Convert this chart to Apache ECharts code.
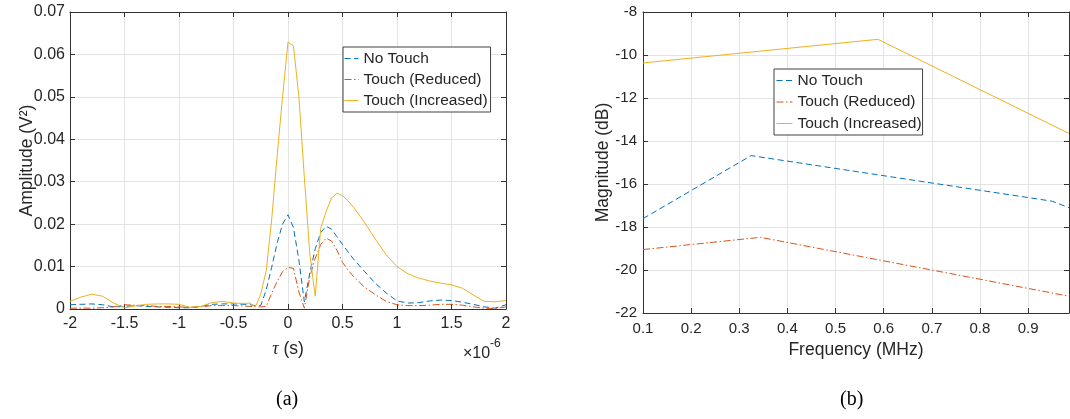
<!DOCTYPE html>
<html>
<head>
<meta charset="utf-8">
<script src="https://cdn.jsdelivr.net/npm/echarts@6/dist/echarts.min.js"></script>
<style>
html,body{margin:0;padding:0;background:#fff;}
#chart{width:1070px;height:419px;}
</style>
</head>
<body>
<div id="chart"></div>
<script>
// ---- Data (a): autocorrelation vs tau (x1e-6 s) ----
const seriesNames = ['No Touch', 'Touch (Reduced)', 'Touch (Increased)'];
const tau = [-2.0,-1.9,-1.8,-1.7,-1.6,-1.5,-1.4,-1.3,-1.2,-1.1,-1.0,-0.9,-0.8,-0.7,-0.6,-0.5,-0.4,
  -0.35,-0.3,-0.25,-0.2,-0.15,-0.1,-0.05,0,0.05,0.1,0.15,0.2,0.25,0.3,0.35,0.4,0.45,0.5,0.55,0.6,
  0.7,0.8,0.9,1.0,1.1,1.2,1.3,1.4,1.5,1.6,1.7,1.8,1.9,2.0];
const noTouch = [0.0010,0.0011,0.0012,0.0010,0.0005,0.0006,0.0008,0.0006,0.0005,0.0004,0.0003,0.0003,0.0006,0.0011,0.0012,0.0012,0.0011,
  0.0010,0.0008,0.0008,0.0045,0.0098,0.0155,0.0200,0.0222,0.0192,0.0115,0.0017,0.0085,0.0142,0.0180,0.0195,0.0188,0.0170,0.0152,0.0135,0.0118,
  0.0089,0.0061,0.0038,0.0019,0.0014,0.0015,0.0019,0.0021,0.0020,0.0016,0.0011,0.0005,0.0002,0.0010];
const touchReduced = [0.0002,0.0002,0.0002,0.0003,0.0005,0.0010,0.0009,0.0008,0.0006,0.0006,0.0005,0.0004,0.0005,0.0008,0.0008,0.0008,0.0007,
  0.0006,0.0006,0.0005,0.0006,0.0037,0.0065,0.0088,0.0098,0.0096,0.0040,0.0002,0.0076,0.0120,0.0152,0.0167,0.0160,0.0138,0.0110,0.0092,0.0077,
  0.0052,0.0034,0.0018,0.0010,0.0008,0.0008,0.0009,0.0011,0.0011,0.0009,0.0005,0.0002,0.0001,0.0005];
const touchIncreased = [0.0018,0.0028,0.0035,0.0030,0.0014,0.0003,0.0007,0.0011,0.0012,0.0012,0.0011,0.0004,0.0006,0.0015,0.0018,0.0014,0.0013,
  0.0014,0.0005,0.0035,0.0090,0.0210,0.0360,0.0500,0.0629,0.0620,0.0500,0.0310,0.0130,0.0030,0.0190,0.0230,0.0262,0.0273,0.0267,0.0255,0.0240,
  0.0205,0.0165,0.0128,0.0100,0.0083,0.0073,0.0066,0.0061,0.0057,0.0049,0.0033,0.0018,0.0017,0.0020];

// ---- Data (b): magnitude vs frequency ----
const freqNoTouch = [0.1, 0.3245, 0.95, 0.985];
const magNoTouch = [-17.61, -14.68, -16.8, -17.1];
const freqReduced = [0.1, 0.344, 0.985];
const magReduced = [-19.05, -18.48, -21.22];
const freqIncreased = [0.1, 0.588, 0.985];
const magIncreased = [-10.37, -9.27, -13.65];

const colors = ['#0072BD', '#D95319', '#EDB120'];
const dashes = [[6, 3.5], [7, 2.5, 1.5, 2.5], 'solid'];
const FONT = "'Liberation Sans', Arial, Helvetica, sans-serif";
const TXT = '#262626';
const AX = '#333333';
const GRIDC = '#e3e3e3';

function pairs(xs, ys) { return xs.map((x, i) => [x, ys[i]]); }

function mainAxis(gridIndex, pos, min, max, interval, fs, extra) {
  return Object.assign({
    type: 'value', gridIndex: gridIndex, position: pos, min: min, max: max, interval: interval,
    nameMoveOverlap: false,
    axisLine: { show: true, onZero: false, lineStyle: { color: AX, width: 1 } },
    axisTick: { show: true, inside: true, length: 5, lineStyle: { color: AX } },
    axisLabel: { show: true, color: TXT, fontFamily: FONT, fontSize: fs, margin: 7 },
    splitLine: { show: true, lineStyle: { color: GRIDC, width: 1 } }
  }, extra || {});
}
function boxAxis(gridIndex, pos, min, max, interval) {
  return {
    type: 'value', gridIndex: gridIndex, position: pos, min: min, max: max, interval: interval,
    axisLine: { show: true, onZero: false, lineStyle: { color: AX, width: 1 } },
    axisTick: { show: true, inside: true, length: 5, lineStyle: { color: AX } },
    axisLabel: { show: false }, splitLine: { show: false }
  };
}

const lineSeries = (name, idx, xi, yi, data) => ({
  name: name, type: 'line', xAxisIndex: xi, yAxisIndex: yi, data: data,
  symbol: 'none', smooth: false, clip: true,
  lineStyle: { color: colors[idx], width: 1, type: dashes[idx] },
  itemStyle: { color: colors[idx] }
});

const legendBase = {
  orient: 'vertical', backgroundColor: '#fff', borderColor: '#404040', borderWidth: 1,
  itemWidth: 15, itemHeight: 12, itemGap: 4, borderRadius: 0,
  itemStyle: { opacity: 0 },
  lineStyle: { width: 1 },
  textStyle: { color: TXT, fontFamily: FONT, fontSize: 15.5, lineHeight: 17 },
  selectedMode: false, data: seriesNames
};

const chart = echarts.init(document.getElementById('chart'), null, { renderer: 'canvas' });
chart.setOption({
  animation: false,
  backgroundColor: '#fff',
  grid: [
    { left: 70, top: 12, width: 436, height: 297, show: false },
    { left: 643, top: 12, width: 426, height: 301, show: false }
  ],
  xAxis: [
    mainAxis(0, 'bottom', -2, 2, 0.5, 16, {
      name: '{t|τ} (s)', nameLocation: 'middle', nameGap: 31,
      nameTextStyle: { color: TXT, fontFamily: FONT, fontSize: 17.5,
        rich: { t: { fontFamily: "'Liberation Serif', 'DejaVu Serif', serif", fontStyle: 'italic', fontSize: 18, color: TXT } } }
    }),
    boxAxis(0, 'top', -2, 2, 0.5),
    mainAxis(1, 'bottom', 0.1, 0.985, 0.1, 15, {
      name: 'Frequency (MHz)', nameLocation: 'middle', nameGap: 28,
      nameTextStyle: { color: TXT, fontFamily: FONT, fontSize: 17.5 },
      axisLabel: { show: true, color: TXT, fontFamily: FONT, fontSize: 15, margin: 8, showMaxLabel: false }
    }),
    boxAxis(1, 'top', 0.1, 0.985, 0.1)
  ],
  yAxis: [
    mainAxis(0, 'left', 0, 0.07, 0.01, 16, {
      name: 'Amplitude (V²)', nameLocation: 'middle', nameRotate: 90, nameGap: 34,
      nameTextStyle: { color: TXT, fontFamily: FONT, fontSize: 17.5 },
      axisLabel: { show: true, color: TXT, fontFamily: FONT, fontSize: 16, margin: 5 }
    }),
    boxAxis(0, 'right', 0, 0.07, 0.01),
    mainAxis(1, 'left', -22, -8, 2, 15, {
      name: 'Magnitude (dB)', nameLocation: 'middle', nameRotate: 90, nameGap: 31,
      nameTextStyle: { color: TXT, fontFamily: FONT, fontSize: 17.5 },
      axisLabel: { show: true, color: TXT, fontFamily: FONT, fontSize: 15, margin: 6 }
    }),
    boxAxis(1, 'right', -22, -8, 2)
  ],
  legend: [
    Object.assign({}, legendBase, { left: 343, top: 47, padding: [3, 3, 3, 1], itemWidth: 14 }),
    Object.assign({}, legendBase, { left: 774, top: 69, padding: [3, 1, 3, 2], itemWidth: 16, itemGap: 4.5 })
  ],
  series: [
    lineSeries(seriesNames[0], 0, 0, 0, pairs(tau, noTouch)),
    lineSeries(seriesNames[1], 1, 0, 0, pairs(tau, touchReduced)),
    lineSeries(seriesNames[2], 2, 0, 0, pairs(tau, touchIncreased)),
    lineSeries(seriesNames[0], 0, 2, 2, pairs(freqNoTouch, magNoTouch)),
    lineSeries(seriesNames[1], 1, 2, 2, pairs(freqReduced, magReduced)),
    lineSeries(seriesNames[2], 2, 2, 2, pairs(freqIncreased, magIncreased))
  ],
  graphic: [
    { type: 'text', left: 463, top: 346, style: { text: '×10', fill: TXT, font: "16px 'Liberation Sans', Arial, sans-serif" } },
    { type: 'text', left: 490, top: 338, style: { text: '-6', fill: TXT, font: "12px 'Liberation Sans', Arial, sans-serif" } },
    { type: 'text', left: 276, top: 390, style: { text: '(a)', fill: '#000', font: "20px 'Liberation Serif', 'Times New Roman', serif" } },
    { type: 'text', left: 840, top: 390, style: { text: '(b)', fill: '#000', font: "20px 'Liberation Serif', 'Times New Roman', serif" } }
  ]
});
</script>
</body>
</html>
